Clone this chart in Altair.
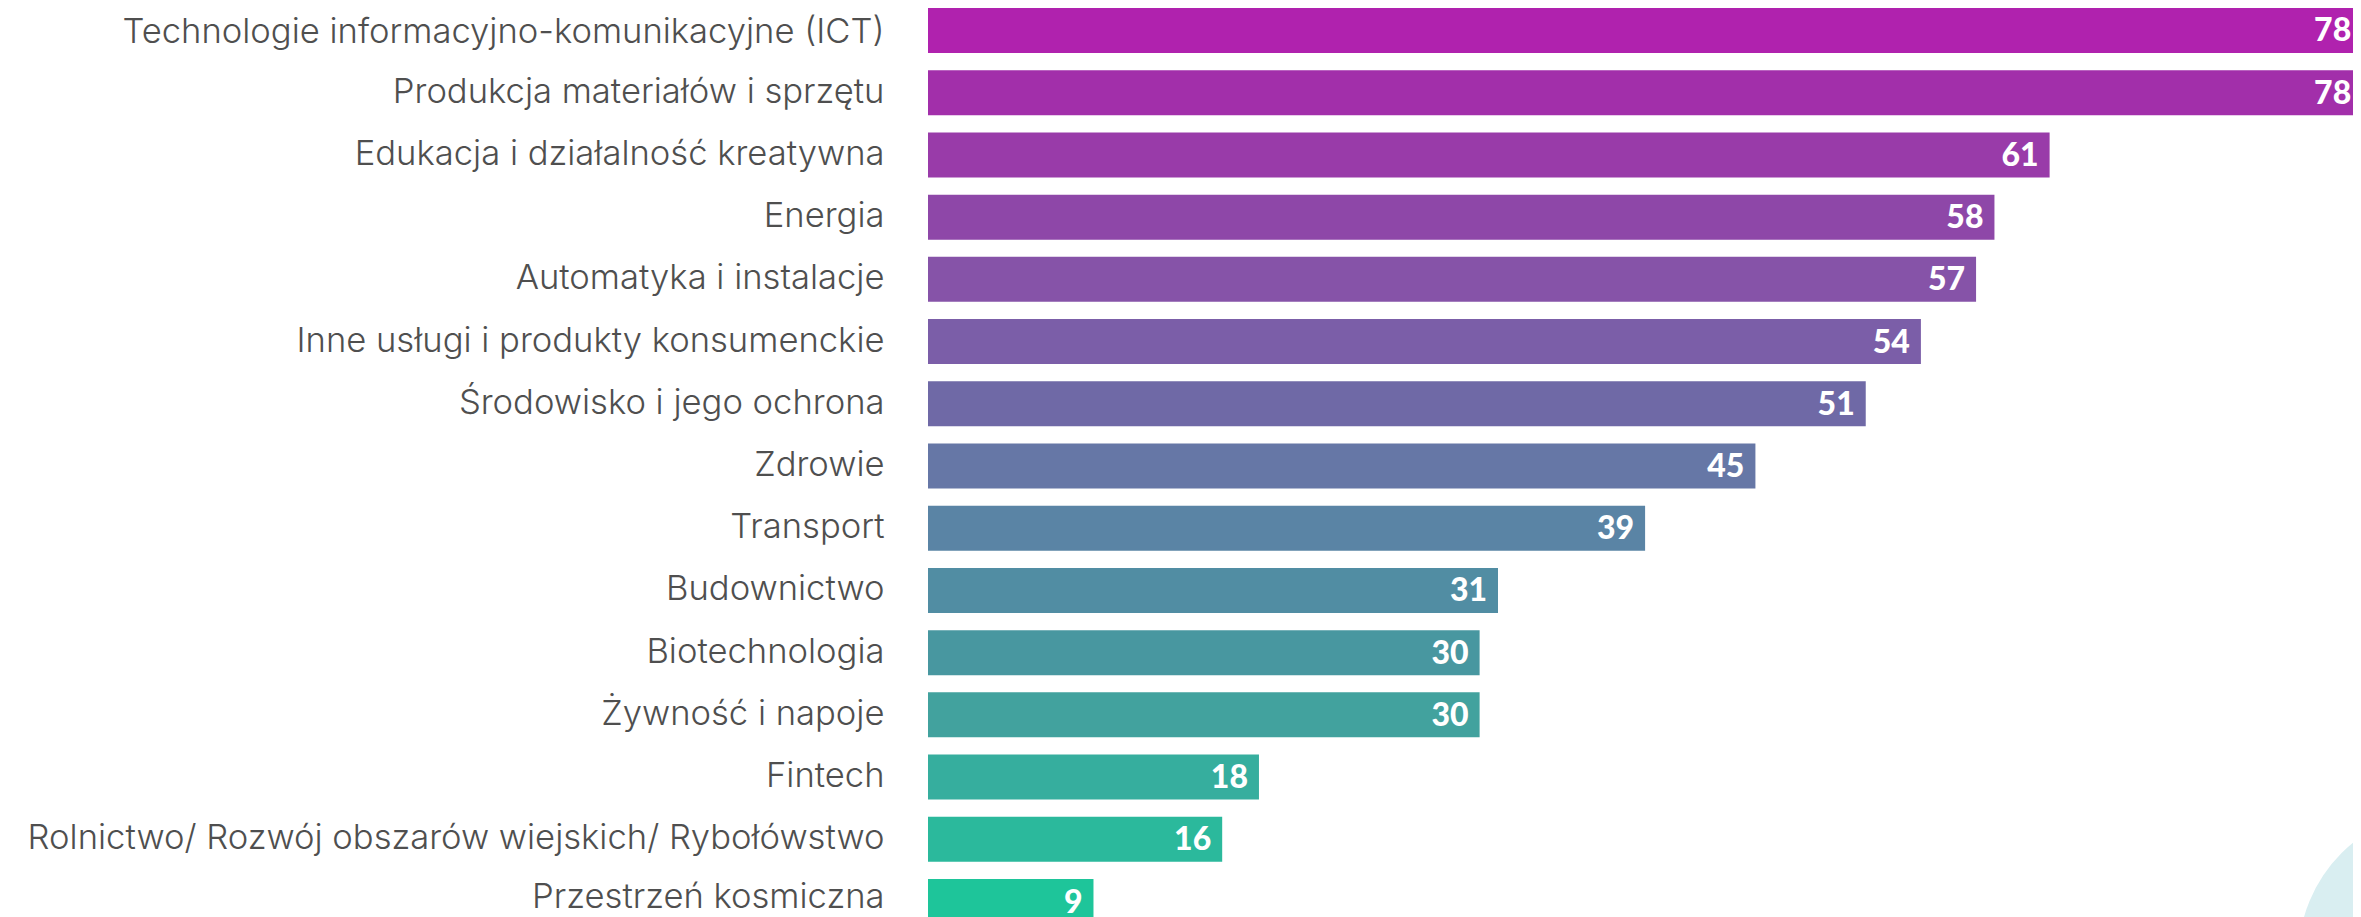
import altair as alt
import pandas as pd

categories = [
    "Technologie informacyjno-komunikacyjne (ICT)",
    "Produkcja materiałów i sprzętu",
    "Edukacja i działalność kreatywna",
    "Energia",
    "Automatyka i instalacje",
    "Inne usługi i produkty konsumenckie",
    "Środowisko i jego ochrona",
    "Zdrowie",
    "Transport",
    "Budownictwo",
    "Biotechnologia",
    "Żywność i napoje",
    "Fintech",
    "Rolnictwo/ Rozwój obszarów wiejskich/ Rybołówstwo",
    "Przestrzeń kosmiczna",
]
values = [78, 78, 61, 58, 57, 54, 51, 45, 39, 31, 30, 30, 18, 16, 9]
bar_colors = [
    "#B022AE", "#A22FAA", "#993BA9", "#8E47A8", "#8653A8",
    "#7B5EA8", "#6F69A6", "#6677A6", "#5A84A5", "#518DA3",
    "#4897A0", "#42A29E", "#36AE9E", "#2BB99C", "#1EC59A",
]

df = pd.DataFrame({"cat": categories, "val": values, "color": bar_colors})

label_offset = {
    "condition": [
        {"test": "datum.value == '%s'" % categories[0], "value": 2.5},
        {"test": "datum.value == '%s'" % categories[-1], "value": -4},
    ],
    "value": 0,
}

y_enc = alt.Y(
    "cat:N",
    sort=categories,
    scale=alt.Scale(range=[0, 916], paddingInner=0.277, paddingOuter=0),
    axis=alt.Axis(
        title=None, ticks=False, domain=False, grid=False,
        labelPadding=44, labelFont="Inter", labelFontSize=34.6,
        labelFontWeight=300, labelOffset=label_offset,
        labelColor="#4f4f4f", labelLimit=1000,
        minExtent=920, maxExtent=920,
    ),
)
x_enc = alt.X("val:Q", scale=alt.Scale(domain=[0, 77.5], nice=False, zero=True), axis=None)

deco = alt.Chart(pd.DataFrame({"d": [0]})).mark_circle(
    clip=True, color="#D9EEF1", opacity=1, size=88500
).encode(x=alt.value(1519), y=alt.value(950))

bars = alt.Chart(df).mark_bar(clip=True).encode(
    y=y_enc, x=x_enc, color=alt.Color("color:N", scale=None)
)

labels = alt.Chart(df).mark_text(
    align="right", baseline="middle", dx=-11, dy=1, color="white",
    font="Lato", fontWeight=900, fontSize=32,
).encode(y=y_enc, x=x_enc, text="val:Q")

chart = alt.layer(deco, bars, labels).properties(
    width=1425, height=909, padding=0
).configure_view(stroke=None)

chart.save("out.html", embed_options={"renderer": "svg", "actions": False})
